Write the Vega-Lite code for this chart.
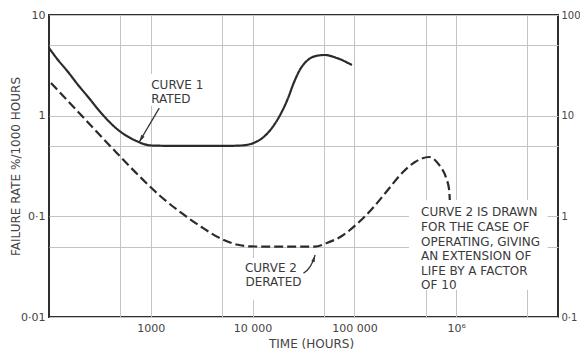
{
  "$schema": "https://vega.github.io/schema/vega-lite/v6.json",
  "width": 509,
  "height": 302,
  "autosize": "none",
  "padding": {"left": 49, "top": 15, "right": 22, "bottom": 33},
  "background": "white",
  "config": {
    "view": {"stroke": "#2f2f2f", "strokeWidth": 2},
    "font": "DejaVu Sans",
    "axis": {
      "labelFont": "DejaVu Sans",
      "labelFontSize": 11,
      "labelColor": "#444444",
      "titleFont": "DejaVu Sans",
      "titleFontSize": 12,
      "titleFontWeight": "normal",
      "titleColor": "#444444",
      "gridColor": "#c4c4c4",
      "gridWidth": 1,
      "gridOpacity": 1,
      "ticks": false,
      "domain": false,
      "labelOverlap": false,
      "labelFlush": false
    }
  },
  "datasets": {
    "curves": [
      {"curve": "1", "hours": 100, "rate": 4.7},
      {"curve": "1", "hours": 122.7, "rate": 3.57},
      {"curve": "1", "hours": 153.9, "rate": 2.716},
      {"curve": "1", "hours": 193.1, "rate": 2.017},
      {"curve": "1", "hours": 242.3, "rate": 1.533},
      {"curve": "1", "hours": 325.2, "rate": 1.063},
      {"curve": "1", "hours": 478.4, "rate": 0.7206},
      {"curve": "1", "hours": 687.9, "rate": 0.5733},
      {"curve": "1", "hours": 1011, "rate": 0.5056},
      {"curve": "1", "hours": 1998, "rate": 0.5},
      {"curve": "1", "hours": 4950, "rate": 0.5},
      {"curve": "1", "hours": 7792, "rate": 0.5056},
      {"curve": "1", "hours": 10230, "rate": 0.5354},
      {"curve": "1", "hours": 12840, "rate": 0.6141},
      {"curve": "1", "hours": 15740, "rate": 0.7718},
      {"curve": "1", "hours": 18870, "rate": 1.039},
      {"curve": "1", "hours": 22120, "rate": 1.464},
      {"curve": "1", "hours": 25340, "rate": 2.11},
      {"curve": "1", "hours": 29050, "rate": 2.842},
      {"curve": "1", "hours": 34040, "rate": 3.492},
      {"curve": "1", "hours": 41760, "rate": 3.915},
      {"curve": "1", "hours": 51220, "rate": 4.006},
      {"curve": "1", "hours": 67220, "rate": 3.741},
      {"curve": "1", "hours": 94500, "rate": 3.186},
      {"curve": "2", "hours": 104.6, "rate": 2.11},
      {"curve": "2", "hours": 206.7, "rate": 1.015},
      {"curve": "2", "hours": 408, "rate": 0.488},
      {"curve": "2", "hours": 806, "rate": 0.24},
      {"curve": "2", "hours": 1269, "rate": 0.1556},
      {"curve": "2", "hours": 1998, "rate": 0.108},
      {"curve": "2", "hours": 3145, "rate": 0.0784},
      {"curve": "2", "hours": 4950, "rate": 0.0596},
      {"curve": "2", "hours": 6957, "rate": 0.0525},
      {"curve": "2", "hours": 9775, "rate": 0.0502},
      {"curve": "2", "hours": 20000, "rate": 0.05},
      {"curve": "2", "hours": 40820, "rate": 0.05},
      {"curve": "2", "hours": 53600, "rate": 0.0543},
      {"curve": "2", "hours": 75300, "rate": 0.0638},
      {"curve": "2", "hours": 105800, "rate": 0.0839},
      {"curve": "2", "hours": 148700, "rate": 0.1183},
      {"curve": "2", "hours": 209000, "rate": 0.1785},
      {"curve": "2", "hours": 293800, "rate": 0.2695},
      {"curve": "2", "hours": 394500, "rate": 0.3466},
      {"curve": "2", "hours": 542000, "rate": 0.3886},
      {"curve": "2", "hours": 680000, "rate": 0.3236},
      {"curve": "2", "hours": 797000, "rate": 0.24},
      {"curve": "2", "hours": 853000, "rate": 0.1827},
      {"curve": "2", "hours": 865000, "rate": 0.1453}
    ],
    "boxes": [
      {"hours": 904, "hours2": 3770, "rate": 1.25, "rate2": 2.6},
      {"hours": 7800, "hours2": 30400, "rate": 0.0148, "rate2": 0.0386},
      {"hours": 344000, "hours2": 7900000, "rate": 0.0185, "rate2": 0.145}
    ],
    "arrows": [
      {"arrow": "rated", "hours": 1210, "rate": 1.19},
      {"arrow": "rated", "hours": 770, "rate": 0.548},
      {"arrow": "derated", "hours": 31600, "rate": 0.0272},
      {"arrow": "derated", "hours": 36700, "rate": 0.0316},
      {"arrow": "derated", "hours": 39600, "rate": 0.0368},
      {"arrow": "derated", "hours": 41100, "rate": 0.0413}
    ],
    "heads": [
      {"arrow": "rated", "hours": 806, "rate": 0.591},
      {"arrow": "derated", "hours": 40000, "rate": 0.0378}
    ],
    "notes": [
      {"text": "CURVE 1", "hours": 1010, "rate": 2.02},
      {"text": "RATED", "hours": 1010, "rate": 1.46},
      {"text": "CURVE 2", "hours": 8400, "rate": 0.0307},
      {"text": "DERATED", "hours": 8500, "rate": 0.0223},
      {"text": "CURVE 2 IS DRAWN", "hours": 452000, "rate": 0.11},
      {"text": "FOR THE CASE OF", "hours": 452000, "rate": 0.0783},
      {"text": "OPERATING, GIVING", "hours": 452000, "rate": 0.0556},
      {"text": "AN EXTENSION OF", "hours": 452000, "rate": 0.0404},
      {"text": "LIFE BY A FACTOR", "hours": 452000, "rate": 0.0287},
      {"text": "OF 10", "hours": 452000, "rate": 0.0208}
    ]
  },
  "layer": [
    {
      "encoding": {
        "x": {
          "field": "hours",
          "type": "quantitative",
          "scale": {"type": "log", "domain": [100, 10000000]},
          "axis": {
            "values": [500, 1000, 5000, 10000, 50000, 100000, 500000, 1000000, 5000000],
            "labelExpr": "datum.value == 1000 ? '1000' : datum.value == 10000 ? '10 000' : datum.value == 100000 ? '100 000' : datum.value == 1000000 ? '10⁶' : ''",
            "grid": true,
            "labelPadding": 5,
            "title": "TIME (HOURS)",
            "titleX": 262,
            "titleY": 26,
            "titleBaseline": "middle"
          }
        },
        "y": {
          "field": "rate",
          "type": "quantitative",
          "scale": {"type": "log", "domain": [0.01, 10]},
          "axis": {
            "values": [0.01, 0.05, 0.1, 0.5, 1, 5, 10],
            "labelExpr": "datum.value == 10 ? '10' : datum.value == 1 ? '1' : datum.value == 0.1 ? '0·1' : datum.value == 0.01 ? '0·01' : ''",
            "grid": true,
            "labelPadding": 4,
            "title": "FAILURE RATE %/1000 HOURS",
            "titleX": -34,
            "titleY": 151,
            "titleBaseline": "middle",
            "titleAlign": "center"
          }
        }
      },
      "layer": [
        {
          "data": {"name": "boxes"},
          "mark": {"type": "rect", "fill": "white", "stroke": null},
          "encoding": {
            "x2": {"field": "hours2"},
            "y2": {"field": "rate2"}
          }
        },
        {
          "data": {"name": "curves"},
          "mark": {"type": "line", "interpolate": "monotone", "strokeWidth": 2.2, "color": "#2b2b2b"},
          "encoding": {
            "strokeDash": {
              "field": "curve",
              "type": "nominal",
              "scale": {"domain": ["1", "2"], "range": [[1, 0], [9, 4]]},
              "legend": null
            }
          }
        },
        {
          "data": {"name": "arrows"},
          "mark": {"type": "line", "interpolate": "monotone", "strokeWidth": 1.3, "color": "#333333"},
          "encoding": {"detail": {"field": "arrow"}}
        },
        {
          "data": {"name": "heads"},
          "transform": [{"filter": "datum.arrow == 'rated'"}],
          "mark": {"type": "point", "shape": "M0,-1L0.45,0.8L-0.45,0.8Z", "filled": true, "size": 70, "angle": 210, "color": "#333333", "opacity": 1},
          "encoding": {}
        },
        {
          "data": {"name": "heads"},
          "transform": [{"filter": "datum.arrow == 'derated'"}],
          "mark": {"type": "point", "shape": "M0,-1L0.45,0.8L-0.45,0.8Z", "filled": true, "size": 60, "angle": 18, "color": "#333333", "opacity": 1},
          "encoding": {}
        },
        {
          "data": {"name": "notes"},
          "mark": {"type": "text", "align": "left", "baseline": "middle", "fontSize": 12, "font": "DejaVu Sans", "color": "#3a3a3a"},
          "encoding": {"text": {"field": "text"}}
        }
      ]
    },
    {
      "data": {"name": "curves"},
      "mark": {"type": "rule", "opacity": 0},
      "encoding": {
        "y": {
          "field": "rate",
          "type": "quantitative",
          "scale": {"type": "log", "domain": [0.01, 10]},
          "axis": {
            "orient": "right",
            "values": [0.01, 0.1, 1, 10],
            "labelExpr": "datum.value == 10 ? '100' : datum.value == 1 ? '10' : datum.value == 0.1 ? '1' : '0·1'",
            "grid": false,
            "labelFontSize": 10,
            "labelPadding": 3,
            "title": null
          }
        }
      }
    }
  ],
  "resolve": {"axis": {"y": "independent"}}
}
